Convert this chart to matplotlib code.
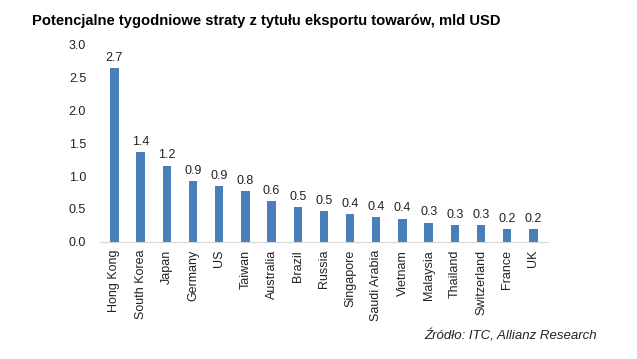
import matplotlib
matplotlib.use("Agg")
import matplotlib.pyplot as plt

plt.rcParams['font.family'] = ['Liberation Sans', 'DejaVu Sans']

countries = ["Hong Kong", "South Korea", "Japan", "Germany", "US", "Taiwan",
             "Australia", "Brazil", "Russia", "Singapore", "Saudi Arabia",
             "Vietnam", "Malaysia", "Thailand", "Switzerland", "France", "UK"]
# bar heights (bln USD per week)
values = [2.64, 1.36, 1.16, 0.92, 0.85, 0.77, 0.62, 0.53, 0.46, 0.42,
          0.37, 0.35, 0.29, 0.25, 0.25, 0.19, 0.19]
# labels as printed on the chart
labels = ["2.7", "1.4", "1.2", "0.9", "0.9", "0.8", "0.6", "0.5", "0.5", "0.4",
          "0.4", "0.4", "0.3", "0.3", "0.3", "0.2", "0.2"]
yticks = [0.0, 0.5, 1.0, 1.5, 2.0, 2.5, 3.0]

fig = plt.figure(figsize=(6.37, 3.59), dpi=100)
ax = fig.add_axes([0.157, 0.327, 0.703, 0.548])

x = range(len(countries))
bars = ax.bar(x, values, width=0.32, color="#4a7ebb")

for b, lab in zip(bars, labels):
    ax.annotate(lab, (b.get_x() + b.get_width() / 2, b.get_height()),
                xytext=(0, 3), textcoords="offset points",
                ha="center", va="bottom", fontsize=9, color="#222222")

ax.set_xlim(-0.55, len(countries) - 0.45)
ax.set_ylim(0, 3.0)
ax.set_yticks(yticks)
ax.set_yticklabels([f"{t:.1f}" for t in yticks])
ax.set_xticks(list(x))
ax.set_xticklabels(countries, rotation=90)
ax.tick_params(axis="both", length=0, labelsize=9, colors="#222222")
ax.tick_params(axis="y", pad=10)
ax.tick_params(axis="x", pad=6)

for s in ["top", "right", "left"]:
    ax.spines[s].set_visible(False)
ax.spines["bottom"].set_color("#d9d9d9")

fig.text(0.05, 0.941, "Potencjalne tygodniowe straty z tytułu eksportu towarów, mld USD",
         fontsize=10.6, fontweight="bold", ha="left", va="center")
fig.text(0.937, 0.063, "Źródło: ITC, Allianz Research", fontsize=9.5,
         style="italic", ha="right", va="center", color="#222222")

fig.savefig("out.png", dpi=100)
